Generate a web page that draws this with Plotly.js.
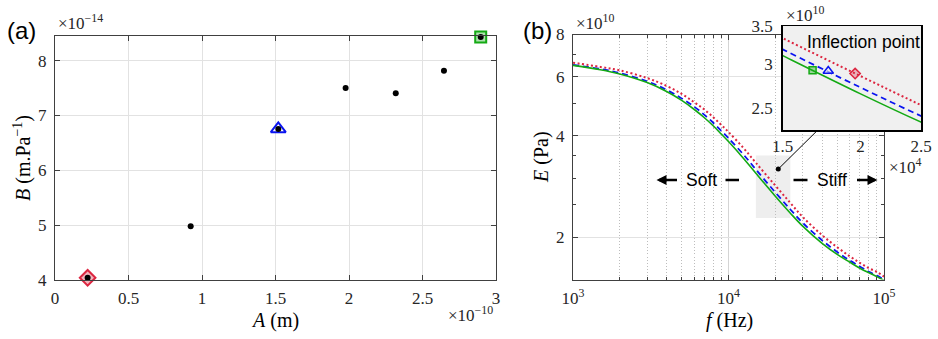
<!DOCTYPE html>
<html>
<head>
<meta charset="utf-8">
<script src="https://cdn.plot.ly/plotly-3.0.1.min.js"></script>
<style>
  html, body { margin: 0; padding: 0; background: #fff; }
  #chart { width: 938px; height: 339px; }
</style>
</head>
<body>
<div id="chart"></div>
<script>
// ---------- panel (a): B versus A ----------
const A_m   = [0.222e-10, 0.923e-10, 1.519e-10, 1.977e-10, 2.318e-10, 2.646e-10, 2.896e-10];
const B_mPa = [4.04e-14, 4.98e-14, 6.755e-14, 7.50e-14, 7.406e-14, 7.815e-14, 8.43e-14];
// highlighted cases (index into A_m / B_mPa)
const caseIdx = { red: 0, blue: 2, green: 6 };
const aTickVals  = [0, 0.5e-10, 1e-10, 1.5e-10, 2e-10, 2.5e-10, 3e-10];
const aTickText  = ['0', '0.5', '1', '1.5', '2', '2.5', '3'];
const bTickVals  = [4e-14, 5e-14, 6e-14, 7e-14, 8e-14];
const bTickText  = ['4', '5', '6', '7', '8'];

// ---------- panel (b): E versus f ----------
const E_SCALE = 1e10;
const freqHz  = [1e3, 1.5e3, 2e3, 3e3, 4e3, 5e3, 6e3, 7e3, 8e3, 9e3, 1e4, 1.25e4, 1.5e4, 2e4, 2.5e4, 3e4, 4e4, 5e4, 6e4, 7e4, 8e4, 9e4, 1e5];
const E_red   = [6.60, 6.41, 6.26, 5.94, 5.63, 5.33, 5.04, 4.79, 4.54, 4.31, 4.11, 3.68, 3.33, 2.85, 2.53, 2.30, 2.03, 1.87, 1.76, 1.68, 1.62, 1.58, 1.53];
const E_blue  = [6.50, 6.32, 6.15, 5.81, 5.48, 5.17, 4.89, 4.62, 4.37, 4.14, 3.94, 3.52, 3.18, 2.72, 2.42, 2.21, 1.96, 1.81, 1.71, 1.64, 1.58, 1.54, 1.50];
const E_green = [6.48, 6.29, 6.11, 5.76, 5.42, 5.10, 4.80, 4.53, 4.28, 4.05, 3.85, 3.43, 3.10, 2.65, 2.36, 2.16, 1.92, 1.78, 1.69, 1.62, 1.57, 1.53, 1.49];
// inflection points: [red, blue, green]
const inflF = [1.96e4, 1.775e4, 1.675e4];
const inflE = [2.88, 2.91, 2.92];
// pointer dot linking the zoomed window to the inset
const pointerF = [2.09e4];
const pointerE = [3.19];

const fTickVals = [1e3, 1e4, 1e5];
const fTickText = ['10<sup>3</sup>', '10<sup>4</sup>', '10<sup>5</sup>'];
const fMinor    = [2e3, 3e3, 4e3, 5e3, 6e3, 7e3, 8e3, 9e3, 2e4, 3e4, 4e4, 5e4, 6e4, 7e4, 8e4, 9e4];
const eTickVals = [2, 4, 6, 8];
const eMinor    = [2.5, 3, 3.5, 5, 7];
const insetF    = [1.5e4, 2.5e4];
const insetE    = [2.285, 3.5];
const insetFTicks = [1.5e4, 2e4, 2.5e4];
const insetFText  = ['1.5', '2', '2.5'];
const insetETicks = [2.5, 3, 3.5];

const sc = v => v * E_SCALE;
const scA = arr => arr.map(sc);

// colours
const RED = '#dc2640', BLUE = '#0a14f0', GREEN = '#14aa14';

// page geometry helpers (layout uses zero margins, so paper coords map to pixels)
const W = 938, H = 339;
const fx = p => p / W;
const fy = p => 1 - p / H;

const SERIF = 'Liberation Serif';
const SANS  = 'Liberation Sans';
const tickFont = { family: SERIF, size: 17, color: '#262626' };
const AXC = '#404040';

const traces = [];

// (a) highlighted markers
const hl = [
  { i: caseIdx.red,   sym: 'diamond',     size: 12, col: RED,   fill: 'rgba(220,38,64,0.35)' },
  { i: caseIdx.blue,  sym: 'triangle-up', size: 13, col: BLUE,  fill: 'rgba(255,255,255,0.9)' },
  { i: caseIdx.green, sym: 'square',      size: 11, col: GREEN, fill: 'rgba(20,170,20,0.35)' }
];
hl.forEach(h => traces.push({
  type: 'scatter', mode: 'markers', xaxis: 'x', yaxis: 'y', cliponaxis: false,
  x: [A_m[h.i]], y: [B_mPa[h.i]],
  marker: { symbol: h.sym, size: h.size, color: h.fill, line: { color: h.col, width: 2 } },
  hoverinfo: 'skip', showlegend: false
}));
traces.push({
  type: 'scatter', mode: 'markers', xaxis: 'x', yaxis: 'y', cliponaxis: false,
  x: A_m, y: B_mPa, marker: { color: '#000', size: 6 }, showlegend: false
});

// (b) main curves and inset curves
const curves = [
  { y: E_red,   col: RED,   dash: '2px,2.5px', w: 2 },
  { y: E_blue,  col: BLUE,  dash: '6px,4px',   w: 1.8 },
  { y: E_green, col: GREEN, dash: 'solid',     w: 1.6 }
];
['2', '3'].forEach(ax => curves.forEach(c => traces.push({
  type: 'scatter', mode: 'lines', xaxis: 'x' + ax, yaxis: 'y' + ax,
  x: freqHz, y: scA(c.y),
  line: { color: c.col, width: c.w, dash: c.dash, shape: 'spline', smoothing: 1 },
  showlegend: false
})));

// inflection markers in the inset
const inflStyle = [
  { sym: 'diamond',     size: 8, col: RED,   fill: 'rgba(220,38,64,0.3)' },
  { sym: 'triangle-up', size: 9, col: BLUE,  fill: 'rgba(240,240,240,0.6)' },
  { sym: 'square',      size: 7, col: GREEN, fill: 'rgba(20,170,20,0.4)' }
];
inflStyle.forEach((s, k) => traces.push({
  type: 'scatter', mode: 'markers', xaxis: 'x3', yaxis: 'y3', cliponaxis: false,
  x: [inflF[k]], y: [sc(inflE[k])],
  marker: { symbol: s.sym, size: s.size, color: s.fill, line: { color: s.col, width: 1.5 } },
  showlegend: false
}));

// pointer dot
traces.push({
  type: 'scatter', mode: 'markers', xaxis: 'x2', yaxis: 'y2',
  x: pointerF, y: scA(pointerE), marker: { color: '#000', size: 5 }, showlegend: false
});

const baseAxis = {
  showline: true, linecolor: AXC, linewidth: 1, mirror: 'ticks',
  ticks: 'inside', ticklen: 5, tickcolor: AXC, tickwidth: 1,
  zeroline: false, tickfont: tickFont, gridcolor: '#e2e2e2', gridwidth: 1,
  tickmode: 'array', fixedrange: true
};

// paper-anchored text helper
const note = (text, px, py, opts) => Object.assign({
  text: text, xref: 'paper', yref: 'paper', x: fx(px), y: fy(py),
  xanchor: 'center', yanchor: 'middle', showarrow: false
}, opts || {});
const titleFont = { family: SERIF, size: 20, color: '#000' };
const sansFont  = { family: SANS, size: 17.5, color: '#000' };

const layout = {
  width: W, height: H, margin: { l: 0, r: 0, t: 0, b: 0, pad: 0 },
  paper_bgcolor: '#fff', plot_bgcolor: 'rgba(0,0,0,0)',
  showlegend: false, font: { family: SERIF, color: '#000' },
  xaxis: Object.assign({}, baseAxis, {
    domain: [fx(55), fx(496)], anchor: 'y', range: [0, 3e-10],
    tickvals: aTickVals, ticktext: aTickText, showgrid: true, ticklabelstandoff: 3
  }),
  yaxis: Object.assign({}, baseAxis, {
    domain: [fy(280), fy(36)], anchor: 'x', range: [4e-14, 8.45e-14],
    tickvals: bTickVals, ticktext: bTickText, showgrid: true, ticklabelstandoff: 4
  }),
  xaxis2: Object.assign({}, baseAxis, {
    domain: [fx(573), fx(884)], anchor: 'y2', type: 'log', range: [3, 5],
    tickvals: fTickVals, ticktext: fTickText, showgrid: true, gridcolor: '#d4d4d4',
    ticklabelstandoff: 3,
    minor: { tickmode: 'array', tickvals: fMinor, ticks: 'inside', ticklen: 3, tickcolor: AXC,
             showgrid: true, griddash: '1px,2px', gridcolor: '#bdbdbd', gridwidth: 1 }
  }),
  yaxis2: Object.assign({}, baseAxis, {
    domain: [fy(279.5), fy(34.5)], anchor: 'x2', type: 'log',
    range: [Math.log10(sc(1.5)), Math.log10(sc(8))],
    tickvals: scA(eTickVals), ticktext: eTickVals.map(String), showgrid: true,
    ticklabelstandoff: 4,
    minor: { tickmode: 'array', tickvals: scA(eMinor), ticks: 'inside', ticklen: 3, tickcolor: AXC, showgrid: false }
  }),
  xaxis3: {
    domain: [fx(782.7), fx(921)], anchor: 'y3', type: 'log',
    range: insetF.map(Math.log10), tickmode: 'array', tickvals: insetFTicks, ticktext: insetFText,
    showline: true, mirror: true, linecolor: '#000', linewidth: 1.5, ticks: '',
    showgrid: false, zeroline: false, tickfont: tickFont, ticklabelstandoff: 0, fixedrange: true
  },
  yaxis3: {
    domain: [fy(130), fy(26)], anchor: 'x3', type: 'log',
    range: scA(insetE).map(Math.log10), tickmode: 'array', tickvals: scA(insetETicks),
    ticktext: insetETicks.map(String),
    showline: true, mirror: true, linecolor: '#000', linewidth: 1.5, ticks: '',
    showgrid: false, zeroline: false, tickfont: tickFont, ticklabelstandoff: 5, fixedrange: true
  },
  shapes: [
    // zoomed window in panel (b)
    { type: 'rect', xref: 'x2', yref: 'y2', layer: 'below',
      x0: insetF[0], x1: insetF[1], y0: sc(insetE[0]), y1: sc(insetE[1]),
      fillcolor: '#eeeeee', line: { width: 0 } },
    // inset background
    { type: 'rect', xref: 'x3', yref: 'y3', layer: 'below',
      x0: insetF[0], x1: insetF[1], y0: sc(insetE[0]), y1: sc(insetE[1]),
      fillcolor: '#f0f0f0', line: { width: 0 } },
    // dashes trailing the Soft / Stiff labels
    { type: 'line', xref: 'paper', yref: 'paper', x0: fx(725.5), x1: fx(739), y0: fy(180), y1: fy(180),
      line: { color: '#000', width: 2.5 } },
    { type: 'line', xref: 'paper', yref: 'paper', x0: fx(793.5), x1: fx(807.5), y0: fy(180), y1: fy(180),
      line: { color: '#000', width: 2.5 } }
  ],
  annotations: [
    note('(a)', 21, 31, { font: { family: SANS, size: 24, color: '#000' } }),
    note('(b)', 537.5, 31, { font: { family: SANS, size: 24, color: '#000' } }),
    note('×10<sup>−14</sup>', 56, 22, { xanchor: 'left', font: tickFont }),
    note('×10<sup>−10</sup>', 495, 314, { xanchor: 'right', font: tickFont }),
    note('×10<sup>10</sup>', 574, 22, { xanchor: 'left', font: tickFont }),
    note('×10<sup>10</sup>', 784, 14, { xanchor: 'left', font: tickFont }),
    note('×10<sup>4</sup>', 887, 166, { xanchor: 'left', font: tickFont }),
    note('<i>A</i> (m)', 275, 320, { font: titleFont }),
    note('<i>B</i> (m.Pa<sup>−1</sup>)', 22, 158, { textangle: -90, font: titleFont }),
    note('<i>f</i> (Hz)', 729.5, 320, { font: titleFont }),
    note('<i>E</i> (Pa)', 541, 157, { textangle: -90, font: titleFont }),
    note('Inflection point', 863, 42.5, { font: sansFont }),
    // Soft arrow and label
    { text: '', xref: 'paper', yref: 'paper', x: fx(656.5), y: fy(180), ax: 22, ay: 0,
      showarrow: true, arrowhead: 2, arrowsize: 0.8, arrowwidth: 2.5, arrowcolor: '#000' },
    note('Soft', 701.5, 180, { font: sansFont }),
    // Stiff arrow and label
    { text: '', xref: 'paper', yref: 'paper', x: fx(877.5), y: fy(180), ax: -22, ay: 0,
      showarrow: true, arrowhead: 2, arrowsize: 0.8, arrowwidth: 2.5, arrowcolor: '#000' },
    note('Stiff', 831.5, 180, { font: sansFont }),
    // leader line from the pointer dot to the inset
    { text: '', xref: 'x2', yref: 'y2', x: Math.log10(pointerF[0]), y: Math.log10(sc(pointerE[0])),
      ax: 40, ay: -39.5, axref: 'pixel', ayref: 'pixel',
      showarrow: true, arrowhead: 0, arrowwidth: 1, arrowcolor: '#000', standoff: 0 }
  ]
};

Plotly.newPlot('chart', traces, layout, { staticPlot: true, displayModeBar: false });
</script>
</body>
</html>
